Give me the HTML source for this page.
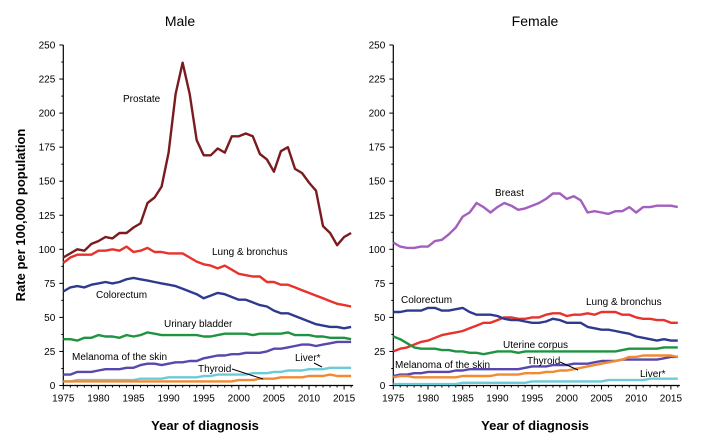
<!DOCTYPE html>
<html><head><meta charset="utf-8"><style>
body{margin:0;background:#fff;}
svg{display:block;font-family:"Liberation Sans",Arial,sans-serif;}
</style></head><body>
<svg id="c" width="715" height="442">
<text x="180" y="26" font-size="14" text-anchor="middle">Male</text>
<text x="535" y="26" font-size="14" text-anchor="middle">Female</text>
<text transform="translate(25,215) rotate(-90)" font-size="13" font-weight="bold" text-anchor="middle">Rate per 100,000 population</text>
<text x="205" y="430" font-size="13" font-weight="bold" text-anchor="middle">Year of diagnosis</text>
<text x="535" y="430" font-size="13" font-weight="bold" text-anchor="middle">Year of diagnosis</text>
</svg>
<script>
const years=[];for(let y=1975;y<=2016;y++)years.push(y);
const yTicks=[0,25,50,75,100,125,150,175,200,225,250];
const xTicks=[1975,1980,1985,1990,1995,2000,2005,2010,2015];
const maleProstate=[94,97,100,99,104,106,109,108,112,112,116,119,134,138,146,171,214,237,214,180,169,169,174,171,183,183,185,183,170,166,157,172,175,159,156,149,143,117,112,103,109,112];
const maleLung=[90,94,96,96,96,99,99,100,99,102,98,99,101,98,98,97,97,97,94,91,89,88,86,88,85,82,81,80,80,76,76,74,74,72,70,68,66,64,62,60,59,58];
const maleColorectum=[69,72,73,72,74,75,76,75,76,78,79,78,77,76,75,74,73,71,69,67,64,66,68,67,65,63,63,61,59,58,55,53,53,51,49,47,45,44,43,43,42,43];
const maleBladder=[34,34,33,35,35,37,36,36,35,37,36,37,39,38,37,37,37,37,37,37,36,36,37,38,38,38,38,37,38,38,38,38,39,37,37,37,36,36,35,35,35,34];
const maleMelanoma=[8,8,10,10,10,11,12,12,12,13,13,15,16,16,15,16,17,17,18,18,20,21,22,22,23,23,24,24,24,25,27,27,28,29,30,30,29,30,31,32,32,32];
const maleLiver=[3,3,4,4,4,4,4,4,4,4,4,5,5,5,5,6,6,6,6,6,7,7,8,8,8,8,8,9,9,9,10,10,11,11,11,12,12,12,13,13,13,13];
const maleThyroid=[3,3,3,3,3,3,3,3,3,3,3,3,3,3,3,3,3,3,3,3,3,3,3,3,3,4,4,4,5,5,5,6,6,6,6,7,7,7,8,7,7,7];
const femBreast=[105,102,101,101,102,102,106,107,111,116,124,127,134,131,127,131,134,132,129,130,132,134,137,141,141,137,139,136,127,128,127,126,128,128,131,127,131,131,132,132,132,131];
const femLung=[25,27,28,30,32,33,35,37,38,39,40,42,44,46,46,48,50,50,49,49,50,50,52,53,53,51,52,52,53,52,54,54,54,52,52,50,49,49,48,48,46,46];
const femColorectum=[54,54,55,55,55,57,57,55,55,56,57,54,52,52,52,51,49,48,48,47,46,46,47,49,48,46,46,46,43,42,41,41,40,39,38,36,35,34,33,34,33,33];
const femUterine=[36,34,31,28,27,27,27,26,26,25,25,24,24,23,24,25,25,25,24,25,25,25,25,25,25,25,25,25,25,25,25,25,25,26,27,27,27,27,27,28,28,28];
const femMelanoma=[7,8,8,9,9,10,10,10,10,11,11,12,12,12,12,12,12,12,12,13,14,14,14,15,15,15,16,16,16,17,18,18,18,19,19,19,19,19,19,20,21,21];
const femThyroid=[6,7,7,6,6,6,6,6,6,6,7,7,7,7,7,8,8,8,8,9,9,9,10,10,11,11,12,13,14,15,16,17,18,19,21,21,22,22,22,22,22,21];
const femLiver=[1,1,1,1,1,1,1,1,1,1,2,2,2,2,2,2,2,2,2,2,3,3,3,3,3,3,3,3,3,3,3,4,4,4,4,4,4,5,5,5,5,5];

const svg=document.getElementById('c');const NS='http://www.w3.org/2000/svg';
function mk(t,a){const e=document.createElementNS(NS,t);for(const k in a)e.setAttribute(k,a[k]);svg.appendChild(e);return e;}
function panel(name,x0,pxPerYr,series,labels,leaders){
  const sx=y=>x0+(y-1975)*pxPerYr, sy=v=>385.5-v*340.5/250;
  const ax=mk('path',{d:`M${x0},${sy(250)}V${sy(0)}H${sx(2016)+2}`,stroke:'#000',fill:'none','stroke-width':1.2});
  
  yTicks.forEach(v=>{const l=mk('line',{x1:x0-4,x2:x0,y1:sy(v),y2:sy(v),stroke:'#000'});
    
    if(v<250){mk('line',{x1:x0-2,x2:x0,y1:sy(v+12.5),y2:sy(v+12.5),stroke:'#000'});}
    const t=mk('text',{x:x0-8,y:sy(v)+3.5,'font-size':10,'text-anchor':'end'});t.textContent=v;
    });
  xTicks.forEach(y=>{const l=mk('line',{x1:sx(y),x2:sx(y),y1:sy(0),y2:sy(0)+4,stroke:'#000'});
    
    const t=mk('text',{x:sx(y),y:sy(0)+16,'font-size':10,'text-anchor':'middle'});t.textContent=y;
    });
  years.forEach(y=>{if(y%5)mk('line',{x1:sx(y),x2:sx(y),y1:sy(0),y2:sy(0)+2,stroke:'#000'});});
  series.forEach(s=>{const d=s.v.map((v,i)=>(i?'L':'M')+sx(years[i]).toFixed(1)+','+sy(v).toFixed(1)).join('');
    const p=mk('path',{d:d,stroke:s.c,fill:'none','stroke-width':2.4,'stroke-linejoin':'round'});
    });
  labels.forEach(l=>{const t=mk('text',{x:l[1],y:l[2],'font-size':10});t.textContent=l[0];
    });
  leaders.forEach(l=>{const e=mk('line',{x1:l[0],y1:l[1],x2:l[2],y2:l[3],stroke:'#000','stroke-width':1});
    });
}
panel('male',63.3,7.02,[
 {n:'prostate',c:'#7a1c1f',v:maleProstate},{n:'lung',c:'#e8322c',v:maleLung},{n:'colorectum',c:'#2f3a8f',v:maleColorectum},
 {n:'bladder',c:'#1f9440',v:maleBladder},{n:'melanoma',c:'#5848ad',v:maleMelanoma},{n:'liver',c:'#6ccbd8',v:maleLiver},{n:'thyroid',c:'#f28a32',v:maleThyroid}],
 [['Prostate',123,102,'prostate'],['Lung & bronchus',212,255,'lung'],['Colorectum',96,298,'colorectum'],['Urinary bladder',164,327,'bladder'],
  ['Melanoma of the skin',72,360,'melanoma'],['Liver*',295,361,'liver'],['Thyroid',198,372,'thyroid']],
 [[232,369,263,379],[314,363,322,367]]);
panel('female',393.3,6.94,[
 {n:'breast',c:'#a35fbe',v:femBreast},{n:'lung',c:'#e8322c',v:femLung},{n:'colorectum',c:'#2f3a8f',v:femColorectum},
 {n:'uterine',c:'#1f9440',v:femUterine},{n:'melanoma',c:'#5848ad',v:femMelanoma},{n:'thyroid',c:'#f28a32',v:femThyroid},{n:'liver',c:'#6ccbd8',v:femLiver}],
 [['Breast',495,196,'breast'],['Colorectum',401,303,'colorectum'],['Lung & bronchus',586,305,'lung'],['Uterine corpus',503,348,'uterine'],
  ['Melanoma of the skin',395,368,'melanoma'],['Thyroid',527,364,'thyroid'],['Liver*',640,377,'liver']],
 [[560,362,578,370]]);
</script>
</body></html>
